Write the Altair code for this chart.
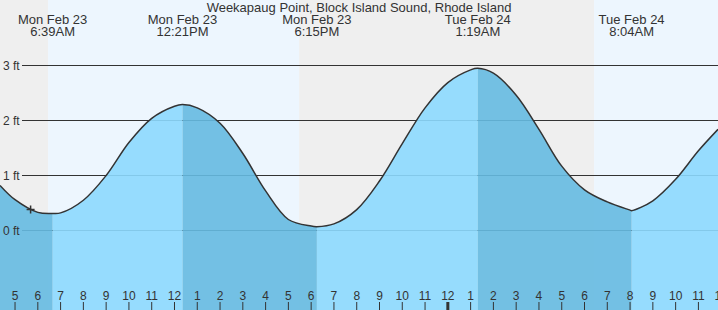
import altair as alt
import pandas as pd

FONT = "Liberation Sans"
TXT = "#333333"
INTERP = "catmull-rom"

title_text = "Weekapaug Point, Block Island Sound, Rhode Island"

# hours since Mon Feb 23 00:00 at the left / right edges of the view
x_start, x_end = 4.34, 35.86
y_bottom, y_top = -1.44545, 4.19091

# tide height (hours since Mon 00:00, feet)
curve_hours = [4.34, 5, 6, 7, 8, 9, 10, 11, 12, 13, 14, 15, 16, 17, 18, 19, 20,
               21, 22, 23, 24, 25, 26, 27, 28, 29, 30, 31, 32, 33, 34, 35, 35.86]
curve_ft = [0.82, 0.56, 0.33, 0.32, 0.55, 1.00, 1.60, 2.04, 2.26, 2.23, 1.95, 1.40,
            0.72, 0.20, 0.08, 0.12, 0.38, 0.90, 1.58, 2.23, 2.69, 2.92, 2.86, 2.46,
            1.84, 1.17, 0.74, 0.52, 0.37, 0.54, 0.93, 1.45, 1.84]

# high / low tide events
event_hours = [6 + 39 / 60, 12 + 21 / 60, 18 + 15 / 60, 24 + 1 + 19 / 60, 24 + 8 + 4 / 60]
event_ft = [0.31, 2.29, 0.07, 2.95, 0.36]
event_day = ["Mon Feb 23", "Mon Feb 23", "Mon Feb 23", "Tue Feb 24", "Tue Feb 24"]
event_time = ["6:39AM", "12:21PM", "6:15PM", "1:19AM", "8:04AM"]

# day / night background bands
band_start = [4.34, 6.45, 17.47, 30.42]
band_end = [6.45, 17.47, 30.42, 35.86]
band_kind = ["night", "day", "night", "day"]

# hour ticks along the bottom
tick_hours = list(range(5, 37))
tick_labels = ["5", "6", "7", "8", "9", "10", "11", "12", "1", "2", "3", "4", "5", "6",
               "7", "8", "9", "10", "11", "12", "1", "2", "3", "4", "5", "6", "7", "8",
               "9", "10", "11", "12"]

grid_ft = [0, 1, 2, 3]
grid_labels = ["0 ft", "1 ft", "2 ft", "3 ft"]

marker_hour = [5 + 41 / 60]
marker_ft = [0.38]

# ---------------------------------------------------------------- tables
pts = sorted(list(zip(curve_hours, curve_ft)) + list(zip(event_hours, event_ft)))
curve_df = pd.DataFrame(pts, columns=["h", "ft"])

bounds = [x_start] + event_hours + [x_end]
rows = []
for i in range(len(bounds) - 1):
    phase = "fall" if i % 2 == 0 else "rise"
    for h, v in pts:
        if bounds[i] - 1e-9 <= h <= bounds[i + 1] + 1e-9:
            rows.append({"h": h, "ft": v, "seg": i, "phase": phase})
area_df = pd.DataFrame(rows)

band_df = pd.DataFrame({"h": band_start, "h2": band_end, "kind": band_kind})
event_df = pd.DataFrame({"h": event_hours, "day": event_day, "time": event_time})
tick_df = pd.DataFrame({"h": tick_hours, "label": tick_labels})
grid_df = pd.DataFrame({"ft": grid_ft, "label": grid_labels})
marker_df = pd.DataFrame({"h": marker_hour, "ft": marker_ft})
title_df = pd.DataFrame({"t": [title_text]})

xs = alt.Scale(domain=[x_start, x_end], nice=False, zero=False)
ys = alt.Scale(domain=[y_bottom, y_top], nice=False, zero=False)


def band_layer(kind, colour):
    return alt.Chart(band_df).transform_filter(
        alt.datum.kind == kind
    ).mark_rect(color=colour).encode(
        x=alt.X("h:Q", scale=xs, axis=None),
        x2="h2:Q",
        y=alt.value(0), y2=alt.value(310),
    )


def area_layer(phase, colour):
    return alt.Chart(area_df).transform_filter(
        alt.datum.phase == phase
    ).mark_area(interpolate=INTERP, opacity=0.9, color=colour).encode(
        x=alt.X("h:Q", scale=xs, axis=None),
        y=alt.Y("ft:Q", scale=ys, axis=None, stack=None),
        y2=alt.value(310),
        detail="seg:N",
    )


night = band_layer("night", "#efefef")
day = band_layer("day", "#edf6fe")

grid = alt.Chart(grid_df).mark_rule(color="#333333", strokeWidth=1).encode(
    y=alt.Y("ft:Q", scale=ys, axis=None),
    x=alt.value(22), x2=alt.value(718),
)

grid_text = alt.Chart(grid_df).mark_text(
    align="left", baseline="middle", font=FONT, fontSize=12, color=TXT
).encode(
    y=alt.Y("ft:Q", scale=ys, axis=None),
    x=alt.value(3),
    text="label:N",
)

rise = area_layer("rise", "#8cd9fe")
fall = area_layer("fall", "#65bae1")

line = alt.Chart(curve_df).mark_line(
    interpolate=INTERP, color="#333333", strokeWidth=1.5
).encode(
    x=alt.X("h:Q", scale=xs, axis=None),
    y=alt.Y("ft:Q", scale=ys, axis=None),
)

marker = alt.Chart(marker_df).mark_point(
    shape="M-1,0L1,0M0,-1L0,1", size=64, filled=False,
    stroke="#333333", strokeWidth=1.5, opacity=1
).encode(
    x=alt.X("h:Q", scale=xs, axis=None),
    y=alt.Y("ft:Q", scale=ys, axis=None),
)

ticks = alt.Chart(tick_df).mark_rule(color="#333333").encode(
    x=alt.X("h:Q", scale=xs, axis=None),
    y=alt.value(302), y2=alt.value(310),
    strokeWidth=alt.condition("datum.h == 24", alt.value(3), alt.value(1)),
)

tick_text = alt.Chart(tick_df).mark_text(
    align="center", baseline="alphabetic", font=FONT, fontSize=12, color=TXT
).encode(
    x=alt.X("h:Q", scale=xs, axis=None),
    y=alt.value(300),
    text="label:N",
)

ev_day = alt.Chart(event_df).mark_text(
    align="center", baseline="alphabetic", font=FONT, fontSize=13, color=TXT
).encode(
    x=alt.X("h:Q", scale=xs, axis=None),
    y=alt.value(24),
    text="day:N",
)

ev_time = alt.Chart(event_df).mark_text(
    align="center", baseline="alphabetic", font=FONT, fontSize=13, color=TXT
).encode(
    x=alt.X("h:Q", scale=xs, axis=None),
    y=alt.value(36),
    text="time:N",
)

title = alt.Chart(title_df).mark_text(
    align="center", baseline="alphabetic", font=FONT, fontSize=13, color=TXT
).encode(
    x=alt.value(359), y=alt.value(12), text="t:N",
)

chart = alt.layer(
    night, day, grid, rise, fall, grid_text, line, marker, ticks, tick_text,
    ev_day, ev_time, title
).properties(
    width=718, height=310, padding=0,
    autosize=alt.AutoSizeParams(type="none"),
).configure_view(stroke=None)

chart.save("out.html", embed_options={"renderer": "svg", "actions": False})
